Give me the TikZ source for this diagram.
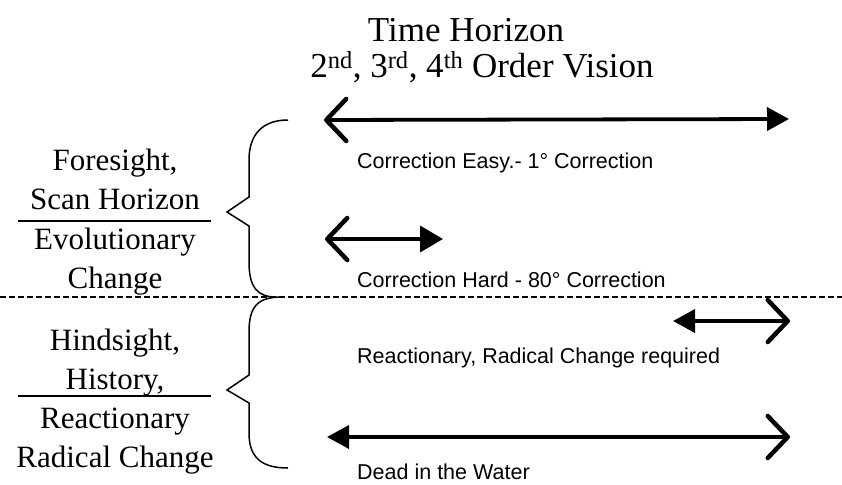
\documentclass[tikz,border=0pt]{standalone}
\usepackage{fontspec}
\setmainfont{Liberation Serif}
\newfontfamily\arialfont{Liberation Sans}
\usetikzlibrary{arrows.meta}

\begin{document}
\begin{tikzpicture}[x=1pt,y=-1pt,
  head/.style={font=\fontsize{35}{40}\selectfont,inner sep=0pt,anchor=base},
  side/.style={font=\fontsize{31}{38}\selectfont,inner sep=0pt,anchor=base},
  note/.style={font=\arialfont\fontsize{21.5}{25}\selectfont,inner sep=0pt,anchor=base west},
  span/.style={line width=3.8pt},
  brace/.style={line width=1.5pt,line join=miter},
  chev/.tip={Straight Barb[length=20pt,width=42pt,line width=4.5pt,round]},
  tri/.tip={Triangle[length=22pt,width=23pt]}]
\def\xL{115}
\def\xN{357}
\useasboundingbox (0,0) rectangle (842,484);
  %\draw[help lines,step=50] (0,0) grid (842,484);
\path
(466,42) node [head] (title) {Time Horizon}
(482,78) node [head] (order) {2\textsuperscript{nd}, 3\textsuperscript{rd}, 4\textsuperscript{th} Order Vision}
;
% left side
\path
(\xL,170) node [side] (fore) {Foresight,}
(\xL,209) node [side] (scan) {Scan Horizon}
(\xL,249) node [side] (evol) {Evolutionary}
(\xL,288) node [side] (chg) {Change}
(\xL,350) node [side] (hind) {Hindsight,}
(\xL,389) node [side] (hist) {History,}
(\xL,428) node [side] (reac) {Reactionary}
(\xL,467) node [side] (radi) {Radical Change}
;
\draw[line width=1.2pt] (18,221) -- (211,221);
\draw[line width=1.2pt] (18,396) -- (211,396);
% braces
\draw[brace] (288,120) .. controls (262,120) and (249,135) .. (249,160)
  -- (249,197) -- (227,212) -- (249,226) -- (249,262)
  .. controls (249,288) and (258,297) .. (276,297);
\draw[brace] (282,297) .. controls (258,297) and (249,306) .. (249,332)
  -- (249,375) -- (227,390) -- (249,403) -- (249,433)
  .. controls (249,458) and (262,468) .. (288,468);
\draw[line width=1.2pt,dash pattern=on 6pt off 3pt] (0,297) -- (842,297);
% arrows and notes
\coordinate (easyL) at (324,120);
\coordinate (easyR) at (789,119);
\coordinate (hardL) at (325,239);
\coordinate (hardR) at (443,239);
\coordinate (reacL) at (673,321);
\coordinate (reacR) at (790,321);
\coordinate (deadL) at (327,437);
\coordinate (deadR) at (790,437);
\draw[span,{chev}-{tri}] (easyL) -- (easyR);
\draw[span,{chev}-{Triangle[length=23pt,width=26pt]}] (hardL) -- (hardR);
\draw[span,{tri}-{chev}] (reacL) -- (reacR);
\draw[span,{tri}-{chev}] (deadL) -- (deadR);
\path
(\xN,168) node [note] (easy) {Correction Easy.- 1° Correction}
(\xN,287) node [note] (hard) {Correction Hard - 80° Correction}
(\xN,363) node [note] (radical) {Reactionary, Radical Change required}
(\xN,479) node [note] (dead) {Dead in the Water}
;
\end{tikzpicture}
\end{document}
